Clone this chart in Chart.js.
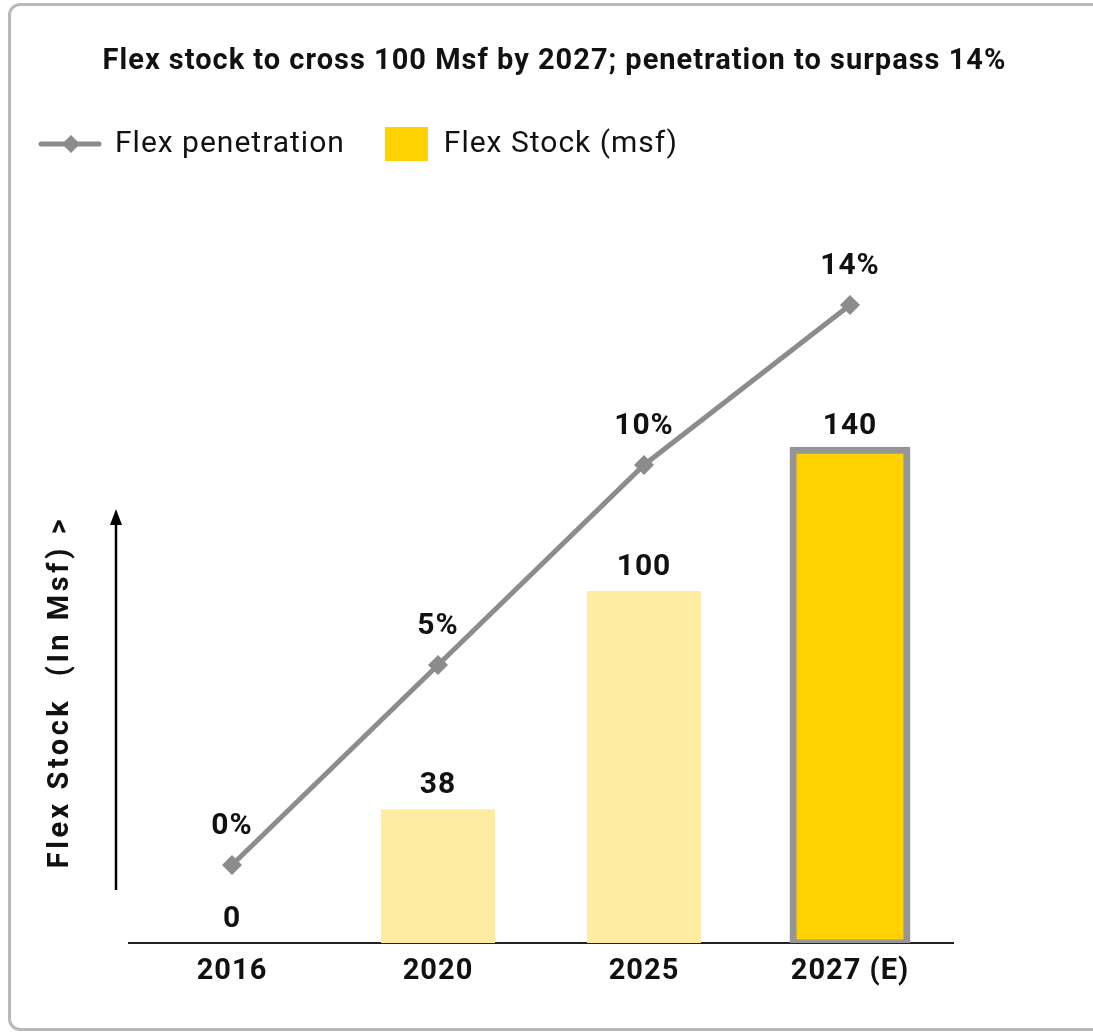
<!DOCTYPE html>
<html>
<head>
<meta charset="utf-8">
<script src="https://cdn.jsdelivr.net/npm/chart.js@4.4.1/dist/chart.umd.min.js"></script>
<style>
  html, body { margin: 0; padding: 0; background: #fff; overflow: hidden; width: 1093px; height: 1033px; }
  #frame { position: absolute; left: 8px; top: 3px; width: 1200px; height: 1022px; border: 3px solid #b9b9b9; border-radius: 12px; box-sizing: content-box; }
  #c { position: absolute; left: 0; top: 0; }
</style>
</head>
<body>
<div id="frame"></div>
<canvas id="c" width="1093" height="1033"></canvas>
<script>
// ---- data ----
const chartTitle = 'Flex stock to cross 100 Msf by 2027; penetration to surpass 14%';
const categories = ['2016', '2020', '2025', '2027 (E)'];
const flexStock = [0, 38, 100, 140];
const flexPenetration = [0, 5, 10, 14];
const penetrationLabels = ['0%', '5%', '10%', '14%'];
const seriesNames = ['Flex penetration', 'Flex Stock (msf)'];
const yAxisTitle = 'Flex Stock  (In Msf) >';

// ---- styles ----
const FONT = 'Roboto';
const TEXT = '#111111';
const LINE_GRAY = '#8c8c8c';
const LIGHT_YELLOW = '#FFEBA1';
const YELLOW = '#FFD100';
const BORDER_GRAY = '#959595';
const SPACING = '1px';

function makeLineSwatch() {
  const c = document.createElement('canvas');
  c.width = 64; c.height = 24;
  const g = c.getContext('2d');
  g.strokeStyle = LINE_GRAY; g.lineWidth = 5; g.lineCap = 'round';
  g.beginPath(); g.moveTo(3, 12); g.lineTo(61, 12); g.stroke();
  g.fillStyle = LINE_GRAY;
  g.beginPath(); g.moveTo(33, 3); g.lineTo(42, 12); g.lineTo(33, 21); g.lineTo(24, 12); g.closePath(); g.fill();
  return c;
}
function makeBoxSwatch() {
  const c = document.createElement('canvas');
  c.width = 58; c.height = 34;
  const g = c.getContext('2d');
  g.fillStyle = YELLOW;
  g.fillRect(15, 0, 43, 34);
  return c;
}

const spacingPlugin = {
  id: 'letterSpacing',
  beforeUpdate(chart) { chart.ctx.letterSpacing = SPACING; },
  beforeDraw(chart) { chart.ctx.letterSpacing = SPACING; }
};

const labelPlugin = {
  id: 'valueLabels',
  afterDatasetsDraw(chart) {
    const ctx = chart.ctx;
    ctx.save();
    ctx.font = 'bold 30px ' + FONT;
    ctx.fillStyle = TEXT;
    ctx.textAlign = 'center';
    ctx.textBaseline = 'middle';
    const barMeta = chart.getDatasetMeta(0);
    barMeta.data.forEach((el, i) => {
      const y = chart.scales.y.getPixelForValue(flexStock[i]);
      ctx.fillText(String(flexStock[i]), el.x, y - 24);
    });
    const lineMeta = chart.getDatasetMeta(1);
    lineMeta.data.forEach((el, i) => {
      ctx.fillText(penetrationLabels[i], el.x, el.y - 39);
    });
    ctx.restore();
  },
  afterDraw(chart) {
    const ctx = chart.ctx;
    const a = chart.chartArea;
    ctx.save();
    // axis arrow
    const ax = a.left - 13;
    ctx.strokeStyle = '#000'; ctx.fillStyle = '#000'; ctx.lineWidth = 2.5;
    ctx.beginPath(); ctx.moveTo(ax, 890); ctx.lineTo(ax, 520); ctx.stroke();
    ctx.beginPath(); ctx.moveTo(ax, 509); ctx.lineTo(ax + 6, 525); ctx.lineTo(ax - 6, 525); ctx.closePath(); ctx.fill();
    // axis title
    ctx.translate(a.left - 61, 692);
    ctx.rotate(-Math.PI / 2);
    ctx.letterSpacing = '3.5px';
    ctx.font = 'bold 29px ' + FONT;
    ctx.fillStyle = TEXT;
    ctx.textAlign = 'center';
    ctx.textBaseline = 'alphabetic';
    ctx.fillText(yAxisTitle, 0, 0);
    ctx.restore();
  }
};

function build() {
  const lineSwatch = makeLineSwatch();
  const boxSwatch = makeBoxSwatch();
  new Chart(document.getElementById('c'), {
    data: {
      labels: categories,
      datasets: [
        {
          type: 'bar',
          label: seriesNames[1],
          data: flexStock,
          yAxisID: 'y',
          order: 2,
          backgroundColor: [LIGHT_YELLOW, LIGHT_YELLOW, LIGHT_YELLOW, YELLOW],
          borderColor: ['rgba(0,0,0,0)', 'rgba(0,0,0,0)', 'rgba(0,0,0,0)', BORDER_GRAY],
          borderWidth: [0, 0, 0, 7],
          borderSkipped: false,
          inflateAmount: [0, 0, 0, 3.5],
          categoryPercentage: 1,
          barPercentage: 0.553
        },
        {
          type: 'line',
          label: seriesNames[0],
          data: flexPenetration,
          yAxisID: 'y1',
          order: 1,
          borderColor: LINE_GRAY,
          borderWidth: 5,
          pointStyle: 'rectRot',
          pointRadius: 10,
          pointBackgroundColor: LINE_GRAY,
          pointBorderColor: LINE_GRAY,
          pointBorderWidth: 0,
          tension: 0,
          fill: false
        }
      ]
    },
    options: {
      responsive: false,
      animation: false,
      devicePixelRatio: 1,
      layout: { padding: { left: 16, right: 0, top: 0, bottom: 0 } },
      plugins: {
        tooltip: { enabled: false },
        title: {
          display: true,
          text: chartTitle,
          color: TEXT,
          font: { family: FONT, size: 29, weight: 'bold' },
          padding: { top: 44.6, bottom: 25.6 }
        },
        legend: {
          display: true,
          position: 'top',
          align: 'start',
          labels: {
            font: { family: FONT, size: 30 },
            color: TEXT,
            usePointStyle: true,
            pointStyleWidth: 60,
            padding: 24,
            generateLabels() {
              return [
                { text: seriesNames[0], pointStyle: lineSwatch, fillStyle: LINE_GRAY, strokeStyle: LINE_GRAY, lineWidth: 0, hidden: false, datasetIndex: 1, fontColor: TEXT },
                { text: seriesNames[1], pointStyle: boxSwatch, fillStyle: YELLOW, strokeStyle: YELLOW, lineWidth: 0, hidden: false, datasetIndex: 0, fontColor: TEXT }
              ];
            }
          }
        }
      },
      scales: {
        x: {
          type: 'category',
          offset: true,
          grid: { display: false, drawTicks: false },
          border: { display: true, color: '#222', width: 2 },
          ticks: { color: TEXT, font: { family: FONT, size: 29, weight: 'bold' }, padding: 11, autoSkip: false, maxRotation: 0 },
          afterFit(s) { s.height = 90; }
        },
        y: {
          position: 'left',
          min: 0,
          max: 219.9,
          grid: { display: false },
          border: { display: false },
          ticks: { display: false },
          afterFit(s) { s.width = 113; }
        },
        y1: {
          position: 'right',
          min: -1.95,
          max: 17.4,
          grid: { display: false },
          border: { display: false },
          ticks: { display: false },
          afterFit(s) { s.width = 140; }
        }
      }
    },
    plugins: [spacingPlugin, labelPlugin]
  });
}

if (document.fonts && document.fonts.load) {
  Promise.all([
    document.fonts.load('bold 29px Roboto'),
    document.fonts.load('30px Roboto')
  ]).then(build, build);
} else {
  build();
}
</script>
</body>
</html>
